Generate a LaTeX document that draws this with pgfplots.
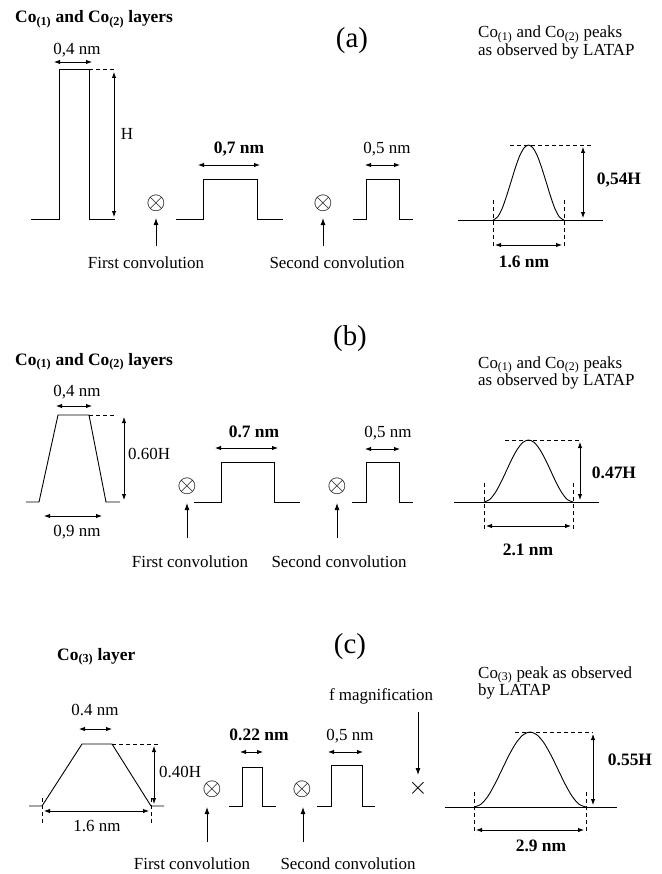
\documentclass[border=0pt]{standalone}
\usepackage{pgfplots}
\pgfplotsset{compat=1.18}
\usetikzlibrary{arrows.meta}
\usepackage{fontspec}
\setmainfont{Liberation Serif}
\newcommand\rf{\fontsize{17}{20}\selectfont}
\newcommand\bff{\fontsize{17.5}{20}\selectfont\bfseries}
\newcommand\pf{\fontsize{29}{32}\selectfont}
\newcommand\of{\fontsize{23}{26}\selectfont}
\tikzset{
  ln/.style={black, solid, line width=0.9bp},
  dar/.style={ln, {Latex[length=6bp,width=4.5bp]}-{Latex[length=6bp,width=4.5bp]}},
  sar/.style={ln, -{Latex[length=7bp,width=5bp]}},
  dsh/.style={black, dash pattern=on 4bp off 3bp, line width=0.7bp},
  lb/.style={inner sep=0pt, anchor=base},
  lbw/.style={inner sep=0pt, anchor=base west},
}
\begin{document}
\begin{tikzpicture}
\begin{axis}[
  width=662bp, height=874bp, scale only axis,
  xmin=0, xmax=662, ymin=0, ymax=874, y dir=reverse,
  hide axis, clip=false, no markers,
  cycle list={{black,solid,line width=0.9bp}},
]
\fill[white] (rel axis cs:0,0) rectangle (rel axis cs:1,1);

% ================= (a) =================
\addplot[ln] coordinates {(31,219)(59,219)(59,69)(89,69)(89,219)(115,219)};
\addplot[dsh] coordinates {(89,69)(115,69)};
\addplot[dar] coordinates {(114,72)(114,217)};
\addplot[dar] coordinates {(54,62)(92,62)};
\addplot[sar] coordinates {(156,246)(156,218)};
\addplot[ln] coordinates {(176,219)(203,219)(203,179)(257,179)(257,219)(283,219)};
\addplot[dar] coordinates {(198,165)(260,165)};
\addplot[sar] coordinates {(323,246)(323,218)};
\addplot[ln] coordinates {(353,219)(366,219)(366,179)(399,179)(399,219)(413,219)};
\addplot[dar] coordinates {(365,165)(400,165)};
\addplot[ln] coordinates {(458,220)(603,220)};
\addplot[ln, smooth] coordinates {(493,220)(497.4,217.2)(501.9,209.1)(506.3,196.8)(510.8,182.5)(515.2,168.2)(519.6,156.0)(524.1,147.9)(528.5,145)(532.9,147.9)(537.4,156.0)(541.8,168.2)(546.3,182.5)(550.7,196.8)(555.1,209.1)(559.6,217.2)(564,220)};
\addplot[dsh] coordinates {(510,145)(592,145)};
\addplot[dar] coordinates {(583,147)(583,218)};
\addplot[dsh] coordinates {(493,200)(493,248)};
\addplot[dsh] coordinates {(564,200)(564,248)};
\addplot[dar] coordinates {(495,245)(562,245)};

\node[lbw] at (axis cs:15,23) {\bff Co\textsubscript{(1)} and Co\textsubscript{(2)} layers};
\node[lb] at (axis cs:77,55) {\rf 0,4 nm};
\node[lb] at (axis cs:127,140) {\rf H};
\node at (axis cs:156,203) {\of $\otimes$};
\node[lb] at (axis cs:146,268) {\rf First convolution};
\node[lb] at (axis cs:239,154) {\bff 0,7 nm};
\node at (axis cs:323,203) {\of $\otimes$};
\node[lb] at (axis cs:337,268) {\rf Second convolution};
\node[lb] at (axis cs:387,154) {\rf 0,5 nm};
\node[lb] at (axis cs:352,48) {\pf (a)};
\node[lbw] at (axis cs:478,38) {\rf Co\textsubscript{(1)} and Co\textsubscript{(2)} peaks};
\node[lbw] at (axis cs:478,56) {\rf as observed by LATAP};
\node[lb] at (axis cs:619,185) {\bff 0,54H};
\node[lb] at (axis cs:524,267) {\bff 1.6 nm};

% ================= (b) =================
\addplot[ln] coordinates {(26,502)(39,502)(58,415)(89,415)(106,502)(120,502)};
\addplot[dsh] coordinates {(89,415)(117,415)};
\addplot[dar] coordinates {(124,417)(124,500)};
\addplot[dar] coordinates {(56,406)(92,406)};
\addplot[dar] coordinates {(44,516)(102,516)};
\addplot[sar] coordinates {(187,538)(187,503)};
\addplot[ln] coordinates {(194,502)(221,502)(221,462)(274,462)(274,502)(300,502)};
\addplot[dar] coordinates {(215,448)(278,448)};
\addplot[sar] coordinates {(337,538)(337,503)};
\addplot[ln] coordinates {(352,502)(366,502)(366,462)(399,462)(399,502)(413,502)};
\addplot[dar] coordinates {(365,449)(400,449)};
\addplot[ln] coordinates {(454,502)(599,502)};
\addplot[ln, smooth] coordinates {(484,502)(489.6,499.6)(495.1,492.9)(500.7,482.8)(506.3,471)(511.8,459.2)(517.4,449.1)(522.9,442.4)(528.5,440)(534.1,442.4)(539.6,449.1)(545.2,459.2)(550.8,471)(556.3,482.8)(561.9,492.9)(567.4,499.6)(573,502)};
\addplot[dsh] coordinates {(505,440)(582,440)};
\addplot[dar] coordinates {(580,442)(580,500)};
\addplot[dsh] coordinates {(484,483)(484,530)};
\addplot[dsh] coordinates {(573,483)(573,530)};
\addplot[dar] coordinates {(486,526)(571,526)};

\node[lbw] at (axis cs:15,365) {\bff Co\textsubscript{(1)} and Co\textsubscript{(2)} layers};
\node[lb] at (axis cs:77,396) {\rf 0,4 nm};
\node[lbw] at (axis cs:128,459) {\rf 0.60H};
\node[lb] at (axis cs:77,536) {\rf 0,9 nm};
\node at (axis cs:187,486) {\of $\otimes$};
\node[lb] at (axis cs:190,567) {\rf First convolution};
\node[lb] at (axis cs:254,437) {\bff 0.7 nm};
\node at (axis cs:337,486) {\of $\otimes$};
\node[lb] at (axis cs:339,567) {\rf Second convolution};
\node[lb] at (axis cs:388,437) {\rf 0,5 nm};
\node[lb] at (axis cs:350,345) {\pf (b)};
\node[lbw] at (axis cs:478,368) {\rf Co\textsubscript{(1)} and Co\textsubscript{(2)} peaks};
\node[lbw] at (axis cs:478,385) {\rf as observed by LATAP};
\node[lb] at (axis cs:614,478) {\bff 0.47H};
\node[lb] at (axis cs:528,555) {\bff 2.1 nm};

% ================= (c) =================
\addplot[ln] coordinates {(29,806)(42,806)(82,744)(112,744)(151,806)(164,806)};
\addplot[dsh] coordinates {(112,744)(160,744)};
\addplot[dar] coordinates {(154,746)(154,804)};
\addplot[dar] coordinates {(79,729)(112,729)};
\addplot[dsh] coordinates {(42,798)(42,824)};
\addplot[dsh] coordinates {(151,798)(151,824)};
\addplot[dar] coordinates {(44,811)(149,811)};
\addplot[sar] coordinates {(207,842)(207,807)};
\addplot[ln] coordinates {(229,806)(242,806)(242,767)(262,767)(262,806)(276,806)};
\addplot[dar] coordinates {(240,752)(263,752)};
\addplot[sar] coordinates {(303,842)(303,807)};
\addplot[ln] coordinates {(317,806)(331,806)(331,765)(362,765)(362,806)(375,806)};
\addplot[dar] coordinates {(328,752)(363,752)};
\addplot[sar] coordinates {(418,712)(418,775)};
\addplot[ln] coordinates {(445,807)(617,807)};
\addplot[ln, smooth] coordinates {(474,807)(481,804.2)(488,796.1)(495,783.8)(502,769.5)(509,755.2)(516,743)(523,734.9)(530,732)(537,734.9)(544,743)(551,755.2)(558,769.5)(565,783.8)(572,796.1)(579,804.2)(586,807)};
\addplot[dsh] coordinates {(515,732)(593,732)};
\addplot[dar] coordinates {(593,734)(593,805)};
\addplot[dsh] coordinates {(474,792)(474,834)};
\addplot[dsh] coordinates {(586,792)(586,834)};
\addplot[dar] coordinates {(476,830)(584,830)};

\node[lbw] at (axis cs:57,660) {\bff Co\textsubscript{(3)} layer};
\node[lb] at (axis cs:95,715) {\rf 0.4 nm};
\node[lbw] at (axis cs:159,777) {\rf 0.40H};
\node[lb] at (axis cs:97,831) {\rf 1.6 nm};
\node at (axis cs:212,789) {\of $\otimes$};
\node[lb] at (axis cs:192,869) {\rf First convolution};
\node[lb] at (axis cs:259,740) {\bff 0.22 nm};
\node at (axis cs:302,789) {\of $\otimes$};
\node[lb] at (axis cs:348,869) {\rf Second convolution};
\node[lb] at (axis cs:350,740) {\rf 0,5 nm};
\node[lb] at (axis cs:381,700) {\rf f magnification};
\node at (axis cs:418,788) {\of $\times$};
\node[lb] at (axis cs:350,653) {\pf (c)};
\node[lbw] at (axis cs:478,678) {\rf Co\textsubscript{(3)} peak as observed};
\node[lbw] at (axis cs:478,695) {\rf by LATAP};
\node[lb] at (axis cs:630,765) {\bff 0.55H};
\node[lb] at (axis cs:541,851) {\bff 2.9 nm};
\end{axis}
\end{tikzpicture}
\end{document}
